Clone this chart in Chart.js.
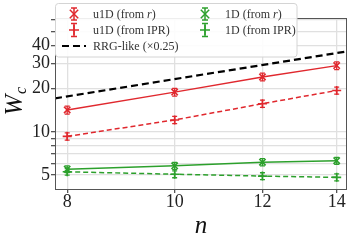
<!DOCTYPE html>
<html><head><meta charset="utf-8">
<script src="https://cdn.jsdelivr.net/npm/chart.js@4"></script>
<style>html,body{margin:0;padding:0;background:#fff}#c{display:block}</style>
</head><body>
<canvas id="c" width="353" height="240"></canvas>
<script>
// ---- data ----
const nVals = [8, 10, 12, 14];
const u1dR = [14.2, 18.9, 24.1, 28.9];
const u1dRErr = [0.9, 1.2, 1.5, 1.8];
const u1dIPR = [9.3, 12.1, 15.7, 19.4];
const u1dIPRErr = [0.55, 0.7, 0.9, 1.1];
const d1R = [5.5, 5.8, 6.15, 6.3];
const d1RErr = [0.3, 0.32, 0.35, 0.35];
const d1IPR = [5.27, 5.07, 4.92, 4.82];
const d1IPRErr = [0.28, 0.28, 0.27, 0.27];
const rrgN = [7.8, 14.3];
const rrgW = [17.1, 36.3];
const xTicks = [8, 10, 12, 14];
const yTicks = [5, 6, 7, 8, 9, 10, 20, 30, 40, 50, 60];
const yLabels = [5, 10, 20, 30, 40];

const RED = '#e0282e', GREEN = '#2ca02c';
const SERIF = '"Liberation Serif", "DejaVu Serif", serif';

function pts(xs, ys) { return xs.map((x, i) => ({x: x, y: ys[i]})); }

const datasets = [
  {label: 'u1D (from r)', data: pts(nVals, u1dR), err: u1dRErr, borderColor: RED, backgroundColor: RED,
   borderWidth: 1.5, pointStyle: 'crossRot', pointRadius: 4.5, pointBorderWidth: 1.6},
  {label: 'u1D (from IPR)', data: pts(nVals, u1dIPR), err: u1dIPRErr, borderColor: RED, backgroundColor: RED,
   borderWidth: 1.5, borderDash: [5, 3], pointStyle: 'cross', pointRadius: 4.5, pointBorderWidth: 1.6},
  {label: 'RRG-like', data: pts(rrgN, rrgW), borderColor: '#000', borderWidth: 2.2, borderDash: [7, 4], pointRadius: 0},
  {label: '1D (from r)', data: pts(nVals, d1R), err: d1RErr, borderColor: GREEN, backgroundColor: GREEN,
   borderWidth: 1.5, pointStyle: 'crossRot', pointRadius: 4.5, pointBorderWidth: 1.6},
  {label: '1D (from IPR)', data: pts(nVals, d1IPR), err: d1IPRErr, borderColor: GREEN, backgroundColor: GREEN,
   borderWidth: 1.5, borderDash: [5, 3], pointStyle: 'cross', pointRadius: 4.5, pointBorderWidth: 1.6}
];

function drawX(ctx, x, y, r) {
  ctx.beginPath();
  ctx.moveTo(x - r, y - r); ctx.lineTo(x + r, y + r);
  ctx.moveTo(x - r, y + r); ctx.lineTo(x + r, y - r);
  ctx.stroke();
}
function drawPlus(ctx, x, y, r) {
  ctx.beginPath();
  ctx.moveTo(x - r, y); ctx.lineTo(x + r, y);
  ctx.moveTo(x, y - r); ctx.lineTo(x, y + r);
  ctx.stroke();
}
function drawErr(ctx, x, y1, y2, cap) {
  ctx.beginPath();
  ctx.moveTo(x, y1); ctx.lineTo(x, y2);
  ctx.moveTo(x - cap, y1); ctx.lineTo(x + cap, y1);
  ctx.moveTo(x - cap, y2); ctx.lineTo(x + cap, y2);
  ctx.stroke();
}

const framePlugin = {
  id: 'frame',
  afterDatasetsDraw(chart) {
    const ctx = chart.ctx, a = chart.chartArea, ys = chart.scales.y;
    chart.data.datasets.forEach((ds, di) => {
      if (!ds.err) return;
      const meta = chart.getDatasetMeta(di);
      ctx.save();
      ctx.strokeStyle = ds.borderColor; ctx.lineWidth = 1.3;
      meta.data.forEach((p, i) => {
        const v = ds.data[i].y, e = ds.err[i];
        drawErr(ctx, p.x, ys.getPixelForValue(v + e), ys.getPixelForValue(v - e), 2.5);
      });
      ctx.restore();
    });
    ctx.save();
    ctx.strokeStyle = '#555'; ctx.lineWidth = 1;
    ctx.strokeRect(Math.round(a.left) + 0.5, Math.round(a.top) + 0.5,
                   Math.round(a.right - a.left) - 1, Math.round(a.bottom - a.top));
    ctx.restore();
  },
  afterDraw(chart) {
    const ctx = chart.ctx, a = chart.chartArea;
    ctx.save();
    ctx.fillStyle = '#111';
    ctx.font = 'italic 25px ' + SERIF;
    ctx.textAlign = 'center'; ctx.textBaseline = 'alphabetic';
    ctx.fillText('n', (a.left + a.right) / 2, 233);
    ctx.save();
    ctx.translate(22, 105); ctx.rotate(-Math.PI / 2);
    ctx.fillText('W', 0, 0);
    ctx.font = 'italic 16px ' + SERIF;
    ctx.textAlign = 'left';
    ctx.fillText('c', 11, 4);
    ctx.restore();
    // legend box
    const bx = 55.5, by = 3.5, bw = 241.5, bh = 53.5, rr = 3;
    ctx.beginPath();
    ctx.moveTo(bx + rr, by); ctx.lineTo(bx + bw - rr, by); ctx.arcTo(bx + bw, by, bx + bw, by + rr, rr);
    ctx.lineTo(bx + bw, by + bh - rr); ctx.arcTo(bx + bw, by + bh, bx + bw - rr, by + bh, rr);
    ctx.lineTo(bx + rr, by + bh); ctx.arcTo(bx, by + bh, bx, by + bh - rr, rr);
    ctx.lineTo(bx, by + rr); ctx.arcTo(bx, by, bx + rr, by, rr);
    ctx.closePath();
    ctx.fillStyle = 'rgba(255,255,255,0.9)'; ctx.fill();
    ctx.strokeStyle = '#d4d4d4'; ctx.lineWidth = 1; ctx.stroke();

    const entries = [
      {col: 0, row: 0, kind: 'x', color: RED, text: ['u1D (from ', 'r', ')']},
      {col: 0, row: 1, kind: '+', color: RED, text: ['u1D (from IPR)']},
      {col: 0, row: 2, kind: 'line', color: '#000', text: ['RRG-like (×0.25)']},
      {col: 1, row: 0, kind: 'x', color: GREEN, text: ['1D (from ', 'r', ')']},
      {col: 1, row: 1, kind: '+', color: GREEN, text: ['1D (from IPR)']}
    ];
    entries.forEach(e => {
      const mx = e.col ? 205 : 74, tx = e.col ? 225 : 93, cy = 14 + e.row * 16;
      ctx.strokeStyle = e.color; ctx.lineWidth = 1.5; ctx.setLineDash([]);
      if (e.kind === 'x') { drawX(ctx, mx, cy, 4.2); drawErr(ctx, mx, cy - 6, cy + 6, 3); }
      else if (e.kind === '+') { drawPlus(ctx, mx, cy, 5); drawErr(ctx, mx, cy - 6.5, cy + 6.5, 3); }
      else {
        ctx.lineWidth = 2.2; ctx.setLineDash([7, 4]);
        ctx.beginPath(); ctx.moveTo(62, cy); ctx.lineTo(86, cy); ctx.stroke(); ctx.setLineDash([]);
      }
      ctx.fillStyle = '#333'; ctx.textAlign = 'left'; ctx.textBaseline = 'alphabetic';
      let x = tx;
      e.text.forEach(s => {
        ctx.font = (s === 'r' ? 'italic ' : '') + '12px ' + SERIF;
        ctx.fillText(s, x, cy + 4);
        x += ctx.measureText(s).width;
      });
    });
    ctx.restore();
  }
};

new Chart(document.getElementById('c'), {
  type: 'line',
  data: {datasets: datasets},
  plugins: [framePlugin],
  options: {
    responsive: false, animation: false, devicePixelRatio: 1,
    layout: {padding: {top: 18, right: 4, left: 0, bottom: 0}},
    plugins: {legend: {display: false}, tooltip: {enabled: false}},
    scales: {
      x: {
        type: 'logarithmic', min: 7.8, max: 14.3,
        afterBuildTicks: s => { s.ticks = xTicks.map(v => ({value: v})); },
        afterFit: s => { s.height = 51; },
        ticks: {callback: v => String(v), font: {family: SERIF, size: 18}, color: '#222', padding: -2, maxRotation: 0, autoSkip: false},
        grid: {color: '#e0e0e0', lineWidth: 1.3, tickLength: 4, tickColor: '#555'},
        border: {display: false}
      },
      y: {
        type: 'logarithmic', min: 4.0, max: 62,
        afterBuildTicks: s => { s.ticks = yTicks.map(v => ({value: v})); },
        afterFit: s => { s.width = 55; },
        ticks: {callback: v => yLabels.includes(v) ? String(v) : '', font: {family: SERIF, size: 18}, color: '#222', padding: 1, autoSkip: false},
        grid: {color: '#e0e0e0', lineWidth: 1.3, tickLength: 4, tickColor: '#555'},
        border: {display: false}
      }
    }
  }
});
</script>
</body></html>
